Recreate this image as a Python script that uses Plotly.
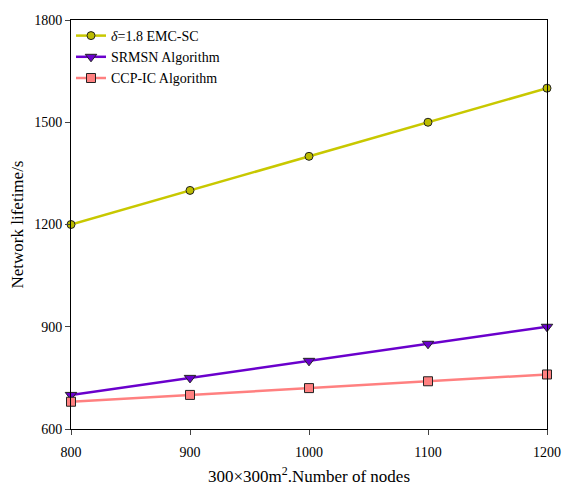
import plotly.graph_objects as go

nodes = [800, 900, 1000, 1100, 1200]
emc_sc = [1200, 1300, 1400, 1500, 1600]
srmsn = [700, 750, 800, 850, 900]
ccp_ic = [680, 700, 720, 740, 760]

series = [
    ("<i>δ</i>=1.8 EMC-SC", emc_sc, "#c8c800", "#bcbc00", "circle", 8),
    ("SRMSN Algorithm", srmsn, "#6a00cc", "#6a00cc", "triangle-down", 10),
    ("CCP-IC Algorithm", ccp_ic, "#ff8080", "#ff8080", "square", 9),
]

fig = go.Figure()
for name, vals, lc, mc, sym, sz in series:
    fig.add_trace(go.Scatter(
        x=nodes, y=vals, name=name, mode="lines+markers",
        line=dict(color=lc, width=2.5),
        marker=dict(symbol=sym, size=sz, color=mc, line=dict(color="#222222", width=1)),
        cliponaxis=False,
    ))

font = "Liberation Serif, Times New Roman, serif"
fig.update_layout(
    width=567, height=486,
    margin=dict(l=71, r=20, t=20, b=57, autoexpand=False),
    plot_bgcolor="white", paper_bgcolor="white",
    font=dict(family=font, size=14, color="black"),
    showlegend=True,
    legend=dict(x=0.0, y=1.0, xanchor="left", yanchor="top",
                bgcolor="rgba(0,0,0,0)", font=dict(size=14), tracegroupgap=0,
                itemwidth=30),
    xaxis=dict(
        range=[800, 1200], tickvals=nodes, ticks="outside", ticklen=5,
        showline=True, linecolor="black", linewidth=1, mirror=True,
        showgrid=False, zeroline=False, automargin=False,
        ticklabelstandoff=5,
        title=dict(text="300×300m<sup>2</sup>.Number of nodes", font=dict(size=17), standoff=14),
        tickfont=dict(size=14),
    ),
    yaxis=dict(
        range=[600, 1800], tickvals=[600, 900, 1200, 1500, 1800], ticks="outside", ticklen=5,
        showline=True, linecolor="black", linewidth=1, mirror=True,
        showgrid=False, zeroline=False, automargin=False,
        title=dict(text="Network lifetime/s", font=dict(size=17), standoff=6),
        tickfont=dict(size=14),
    ),
)

fig.write_html("out.html")
